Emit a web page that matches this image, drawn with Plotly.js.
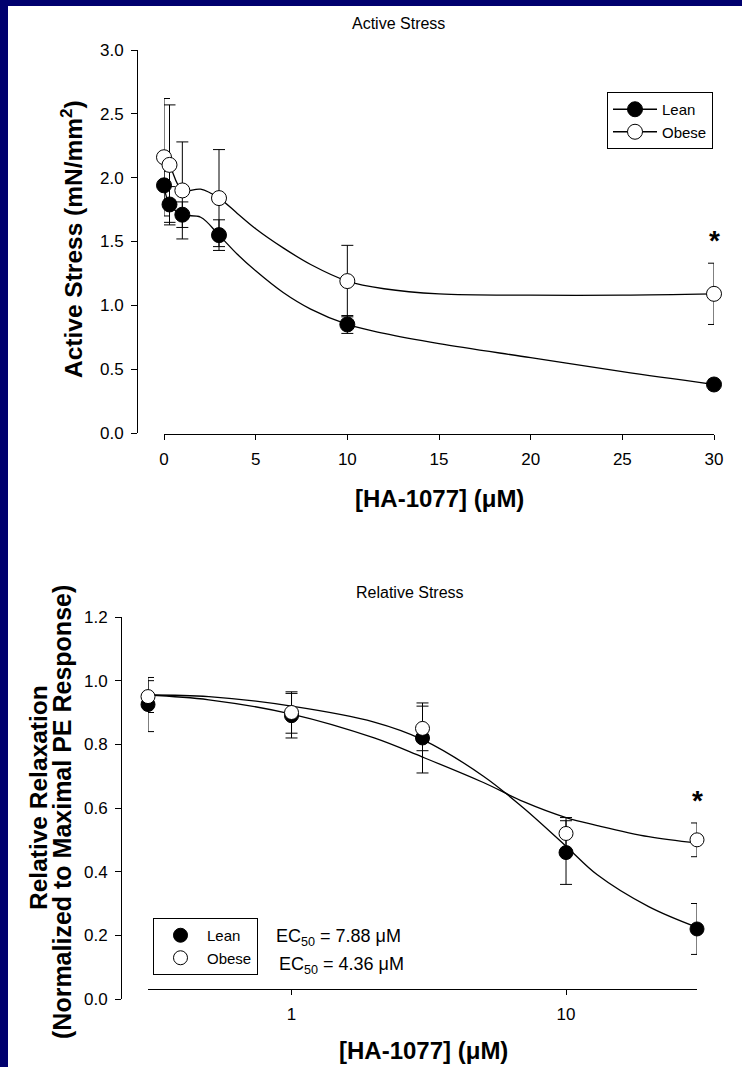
<!DOCTYPE html>
<html>
<head>
<meta charset="utf-8">
<script src="https://cdn.plot.ly/plotly-3.0.1.min.js"></script>
<style>
html,body{margin:0;padding:0;background:#fff;}
#chart{width:742px;height:1067px;}
</style>
</head>
<body>
<div id="chart"></div>
<script>
// ---------- Top panel: Active Stress ----------
const topDose = [0, 0.3, 1, 3, 10, 30];
const topLean = [1.94, 1.79, 1.71, 1.55, 0.85, 0.38];
const topLeanErr = [0.11, 0.14, 0.10, 0.12, 0.07, 0.04];
const topObese = [2.16, 2.10, 1.90, 1.84, 1.19, 1.09];
const topObeseErr = [0.46, 0.47, 0.38, 0.38, 0.28, 0.24];
// smooth curves
const topFitDose = [0, 0.3, 1, 2, 3, 4, 5, 6.5, 8, 10, 12, 15, 20, 25, 30];
const topFitLean = [1.94, 1.79, 1.71, 1.69, 1.55, 1.40, 1.27, 1.10, 0.97, 0.85, 0.78, 0.70, 0.59, 0.48, 0.38];
const topFitObese = [2.16, 2.10, 1.90, 1.91, 1.84, 1.72, 1.60, 1.45, 1.32, 1.19, 1.13, 1.09, 1.08, 1.08, 1.09];
const topXTicks = [0, 5, 10, 15, 20, 25, 30];

// ---------- Bottom panel: Relative Stress ----------
const botDose = [0.3, 1, 3, 10, 30];
const botLean = [0.925, 0.89, 0.82, 0.46, 0.22];
const botLeanErr = [0.085, 0.07, 0.11, 0.10, 0.08];
const botObese = [0.95, 0.90, 0.85, 0.52, 0.50];
const botObeseErr = [0.05, 0.065, 0.07, 0.05, 0.053];
// fitted sigmoid curves
const fitDose = [0.3, 0.5, 1, 2, 3, 5, 7, 10, 13, 20, 30];
const fitLean = [0.955, 0.95, 0.92, 0.87, 0.815, 0.70, 0.60, 0.48, 0.39, 0.29, 0.225];
const fitObese = [0.955, 0.94, 0.895, 0.82, 0.76, 0.68, 0.62, 0.57, 0.545, 0.51, 0.49];
const botXTicks = [1, 10];
const ec50Lean = 7.88, ec50Obese = 4.36;

const W = 742, H = 1067;
const px = v => v / W;          // horizontal pixel -> paper
const py = v => 1 - v / H;      // vertical pixel -> paper
const FONT = 'Liberation Sans, Arial, Helvetica, sans-serif';

function errBar(arr) {
  return {type: 'data', array: arr, visible: true, color: 'black', thickness: 1, width: 6};
}
function curve(x, y, xa, ya) {
  return {x: x, y: y, mode: 'lines', xaxis: xa, yaxis: ya, showlegend: false, hoverinfo: 'skip',
    line: {shape: 'spline', smoothing: 1, color: 'black', width: 1.3}};
}
const markLean = {symbol: 'circle', size: 15, color: 'black', line: {color: 'black', width: 1}};
const markObese = {symbol: 'circle', size: 15, color: 'white', line: {color: 'black', width: 1}};

const traces = [
  curve(topFitDose, topFitLean, 'x', 'y'),
  curve(topFitDose, topFitObese, 'x', 'y'),
  {x: topDose, y: topLean, name: 'Lean', mode: 'markers', xaxis: 'x', yaxis: 'y',
   marker: markLean, error_y: errBar(topLeanErr), cliponaxis: false, showlegend: false},
  {x: topDose, y: topObese, name: 'Obese', mode: 'markers', xaxis: 'x', yaxis: 'y',
   marker: markObese, error_y: errBar(topObeseErr), cliponaxis: false, showlegend: false},
  // legend entries for the top panel (line + symbol, as in the original key)
  {x: [null], y: [null], name: 'Lean', mode: 'lines+markers', xaxis: 'x', yaxis: 'y',
   line: {color: 'black', width: 1.3}, marker: markLean, legend: 'legend'},
  {x: [null], y: [null], name: 'Obese', mode: 'lines+markers', xaxis: 'x', yaxis: 'y',
   line: {color: 'black', width: 1.3}, marker: markObese, legend: 'legend'},

  curve(fitDose, fitLean, 'x2', 'y2'),
  curve(fitDose, fitObese, 'x2', 'y2'),
  {x: botDose, y: botLean, name: 'Lean', mode: 'markers', xaxis: 'x2', yaxis: 'y2',
   marker: Object.assign({}, markLean, {size: 14}),
   error_y: errBar(botLeanErr), cliponaxis: false, legend: 'legend2'},
  {x: botDose, y: botObese, name: 'Obese', mode: 'markers', xaxis: 'x2', yaxis: 'y2',
   marker: Object.assign({}, markObese, {size: 14}),
   error_y: errBar(botObeseErr), cliponaxis: false, legend: 'legend2'}
];

const axCommon = {
  showgrid: false, zeroline: false, showline: true, linecolor: 'black', linewidth: 1,
  ticks: 'outside', tickcolor: 'black', tickwidth: 1, ticklen: 6,
  tickfont: {family: FONT, size: 17, color: 'black'}, fixedrange: true
};

function ann(text, x, y, size, extra) {
  return Object.assign({text: text, xref: 'paper', yref: 'paper', x: px(x), y: py(y),
    xanchor: 'center', yanchor: 'middle', showarrow: false,
    font: {family: FONT, size: size, color: 'black'}}, extra || {});
}

const layout = {
  width: W, height: H,
  margin: {l: 0, r: 0, t: 0, b: 0, pad: 0},
  paper_bgcolor: 'white', plot_bgcolor: 'rgba(0,0,0,0)',
  font: {family: FONT, color: 'black'},
  showlegend: true,
  xaxis: Object.assign({}, axCommon, {
    domain: [px(164), px(714)], range: [0, 30], anchor: 'free', position: py(434),
    tickvals: topXTicks, ticklen: 5, ticklabelstandoff: 5
  }),
  yaxis: Object.assign({}, axCommon, {
    domain: [py(433), py(50)], range: [0, 3], anchor: 'free', position: px(137),
    dtick: 0.5, tick0: 0, tickformat: '.1f', ticklabelstandoff: 4
  }),
  xaxis2: Object.assign({}, axCommon, {
    type: 'log', domain: [px(148), px(697)], range: [Math.log10(0.3), Math.log10(30)],
    anchor: 'free', position: py(989), tickvals: botXTicks, ticktext: botXTicks.map(String),
    ticklen: 5, ticklabelstandoff: 5
  }),
  yaxis2: Object.assign({}, axCommon, {
    domain: [py(999), py(617)], range: [0, 1.2], anchor: 'free', position: px(121),
    dtick: 0.2, tick0: 0, tickformat: '.1f', ticklabelstandoff: 4
  }),
  legend: {x: px(607), y: py(92), xanchor: 'left', yanchor: 'top',
    bgcolor: 'white', bordercolor: 'black', borderwidth: 1,
    font: {family: FONT, size: 15, color: 'black'}, itemwidth: 44},
  legend2: {x: px(153), y: py(918), xanchor: 'left', yanchor: 'top',
    bgcolor: 'white', bordercolor: 'black', borderwidth: 1,
    font: {family: FONT, size: 15, color: 'black'}, itemwidth: 43},
  shapes: [
    {type: 'rect', xref: 'paper', yref: 'paper', x0: 0, x1: px(8), y0: 0, y1: 1,
     fillcolor: '#00006e', line: {width: 0}, layer: 'above'},
    {type: 'rect', xref: 'paper', yref: 'paper', x0: 0, x1: 1, y0: py(6), y1: 1,
     fillcolor: '#00006e', line: {width: 0}, layer: 'above'}
  ],
  annotations: [
    ann('Active Stress', 398, 23, 16),
    ann('Relative Stress', 410, 592, 16),
    ann('<b>Active Stress (mN/mm<sup>2</sup>)</b>', 71, 239, 24.5, {textangle: -90}),
    ann('<b>[HA-1077] (\u03BCM)</b>', 439, 498, 24),
    ann('<b>Relative Relaxation</b>', 38, 798, 24.5, {textangle: -90}),
    ann('<b>(Normalized to Maximal PE Response)</b>', 62, 812, 25, {textangle: -90}),
    ann('<b>[HA-1077] (\u03BCM)</b>', 423, 1050, 24),
    {text: '<b>*</b>', xref: 'x', yref: 'y', x: 30, y: 1.51, showarrow: false,
     xanchor: 'center', yanchor: 'middle', font: {family: FONT, size: 28, color: 'black'}},
    {text: '<b>*</b>', xref: 'x2', yref: 'y2', x: Math.log10(30), y: 0.625, showarrow: false,
     xanchor: 'center', yanchor: 'middle', font: {family: FONT, size: 28, color: 'black'}},
    ann('EC<sub>50</sub> = ' + ec50Lean.toFixed(2) + ' \u03BCM', 274, 937, 18, {xanchor: 'left'}),
    ann('EC<sub>50</sub> = ' + ec50Obese.toFixed(2) + ' \u03BCM', 277, 965, 18, {xanchor: 'left'})
  ]
};

Plotly.newPlot('chart', traces, layout, {displayModeBar: false, staticPlot: true});
</script>
</body>
</html>
